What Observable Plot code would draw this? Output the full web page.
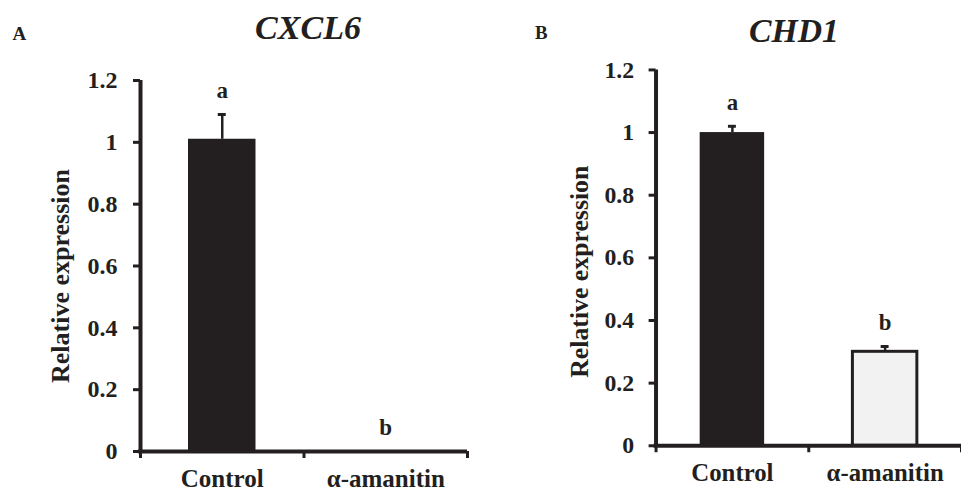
<!DOCTYPE html>
<html>
<head>
<meta charset="utf-8">
<script src="https://cdn.jsdelivr.net/npm/d3@7"></script>
<script src="https://cdn.jsdelivr.net/npm/@observablehq/plot@0.6"></script>
<style>
  html, body { margin: 0; padding: 0; background: #fff; overflow: hidden; }
  #wrap { position: relative; width: 961px; height: 493px; overflow: hidden; }
  .panel { position: absolute; top: 0; }
  .panel svg, .panel svg text { font-family: "Liberation Serif", "Times New Roman", serif !important; font-weight: bold; }
</style>
</head>
<body>
<div id="wrap">
  <div class="panel" id="pA" style="left:0px"></div>
  <div class="panel" id="pB" style="left:480px"></div>
</div>
<script>
// ---- data ----
const categories = ["Control", "α-amanitin"];
const cxcl6Values = [1.01, 0];
const cxcl6Errors = [0.08, 0];
const cxcl6Letters = ["a", "b"];
const chd1Values = [1.0, 0.30];
const chd1Errors = [0.02, 0.017];
const chd1Letters = ["a", "b"];
const yTicks = [0, 0.2, 0.4, 0.6, 0.8, 1, 1.2];
const yLabel = "Relative expression";
const titles = ["CXCL6", "CHD1"];
const panelLetters = ["A", "B"];

const dark = "#231f20";
const light = "#f2f2f2";
const serif = "Liberation Serif, Times New Roman, serif";

function panel(o) {
  const data = categories.map((c, i) => ({cat: c, i, value: o.values[i], se: o.errors[i], sig: o.letters[i]}));
  return Plot.plot({
    width: o.width,
    height: 493,
    marginLeft: o.ml,
    marginRight: o.mr,
    marginTop: o.mt,
    marginBottom: o.mb,
    style: {
      fontFamily: serif,
      fontWeight: "bold",
      color: dark,
      background: "transparent",
      overflow: "visible"
    },
    x: {domain: [0, categories.length], label: null},
    y: {domain: [0, 1.2], label: null},
    marks: [
      // bars
      Plot.rectY(data, {filter: d => d.i === 0, x1: "i", x2: d => d.i + 1, y1: 0, y2: "value",
        insetLeft: o.inset, insetRight: o.inset, fill: dark}),
      Plot.rectY(data, {filter: d => d.i > 0 && d.value > 0, x1: "i", x2: d => d.i + 1, y1: 0, y2: "value",
        insetLeft: o.inset, insetRight: o.inset, fill: light, stroke: dark, strokeWidth: 3}),
      // error bars
      Plot.ruleX(data, {filter: d => d.se > 0, x: d => d.i + 0.5, y1: "value", y2: d => d.value + d.se,
        stroke: dark, strokeWidth: 2.5}),
      Plot.ruleY(data, {filter: d => d.se > 0, y: d => d.value + d.se, x1: d => d.i + 0.5, x2: d => d.i + 0.5,
        insetLeft: -4, insetRight: -4, stroke: dark, strokeWidth: 3}),
      // axis lines
      Plot.ruleX([0], {stroke: dark, strokeWidth: 4}),
      Plot.ruleY([0], {stroke: dark, strokeWidth: 4, insetLeft: -2}),
      // y axis ticks + labels
      Plot.axisY({ticks: yTicks, tickSize: 7, tickPadding: o.tickPad, tickFormat: d => String(d), label: null,
        stroke: dark, strokeWidth: 3, fill: dark, fontSize: 24, fontFamily: serif, fontWeight: "bold"}),
      // x axis boundary ticks
      Plot.axisX({ticks: d3.range(categories.length + 1), tickSize: 7, tickFormat: () => "", label: null,
        stroke: dark, strokeWidth: 3}),
      // category labels
      Plot.text(data, {x: d => d.i + 0.5, y: 0, text: "cat", dy: o.catDy, lineAnchor: "middle",
        fontSize: 25, fontFamily: serif, fontWeight: "bold", fill: dark}),
      // significance letters
      Plot.text(data, {x: d => d.i + 0.5, y: d => d.value + d.se, text: "sig", dy: -24,
        lineAnchor: "middle", fontSize: 23, fontFamily: serif, fontWeight: "bold", fill: dark}),
      // y label
      Plot.text([yLabel], {frameAnchor: "left", rotate: -90, dx: o.ylDx, dy: o.ylDy,
        textAnchor: "middle", lineAnchor: "middle",
        fontSize: 26, fontFamily: serif, fontWeight: "bold", fill: dark}),
      // title
      Plot.text([o.title], {frameAnchor: "top", dx: o.tDx, dy: o.tDy, lineAnchor: "bottom",
        textAnchor: "middle",
        fontSize: 34, fontStyle: "italic", fontFamily: serif, fontWeight: "bold", fill: dark}),
      // panel letter
      Plot.text([o.letter], {frameAnchor: "top-left", dx: o.lDx, dy: o.lDy, lineAnchor: "bottom",
        textAnchor: "start", fontSize: 19, fontFamily: serif, fontWeight: "bold", fill: dark})
    ]
  });
}

document.getElementById("pA").appendChild(panel({
  values: cxcl6Values, errors: cxcl6Errors, letters: cxcl6Letters,
  title: titles[0], letter: panelLetters[0],
  width: 480, ml: 140, mr: 13, mt: 80, mb: 42, inset: 48, tickPad: 16,
  catDy: 27, ylDx: -80, ylDy: 10, tDx: 4, tDy: -42, lDx: -128, lDy: -41
}));

document.getElementById("pB").appendChild(panel({
  values: chd1Values, errors: chd1Errors, letters: chd1Letters,
  title: titles[1], letter: panelLetters[1],
  width: 485, ml: 177, mr: 0, mt: 70, mb: 44, inset: 44.5, tickPad: 15,
  catDy: 28, ylDx: -77, ylDy: 14, tDx: -15, tDy: -28, lDx: -122, lDy: -31
}));
</script>
</body>
</html>
